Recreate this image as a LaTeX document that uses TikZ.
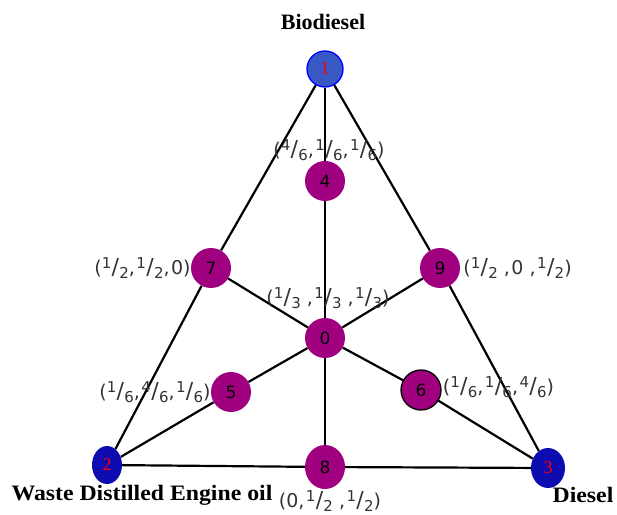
\documentclass[tikz,border=0pt]{standalone}
\usepackage{fontspec}
\setmainfont{Liberation Serif}
\newfontfamily\labfont{DejaVu Sans}
\newfontfamily\widefont[FakeStretch=1.08]{Liberation Serif}
\usetikzlibrary{backgrounds, shapes.geometric}

\definecolor{mixpurple}{RGB}{160,0,128}
\definecolor{pureblue}{RGB}{12,12,176}
\definecolor{bioblue}{RGB}{56,88,196}

\newcommand{\fr}[2]{\raisebox{6pt}{\fontsize{15}{15}\selectfont#1}\kern0.3pt{\fontsize{22}{22}\selectfont/}\kern0.3pt\raisebox{-4.5pt}{\fontsize{15}{15}\selectfont#2}}
\newcommand{\cm}{,\kern1.5pt}

\begin{document}
\begin{tikzpicture}[
  x=1pt, y=1pt,
  mix/.style    = {circle, fill=mixpurple, minimum size=40pt, inner sep=0pt,
                   font=\labfont\fontsize{17}{17}\selectfont},
  pure/.style   = {ellipse, fill=pureblue, inner sep=0pt, text=red,
                   font=\fontsize{18}{18}\selectfont},
  comp/.style   = {font=\bfseries\fontsize{22}{26}\selectfont},
  frac/.style   = {font=\labfont\fontsize{19}{21}\selectfont, text=black!80, inner sep=1pt},
  edge/.style   = {line width=2.2pt},
]
\useasboundingbox (0,0) rectangle (617,514);

% ---- the three pure fuels ---------------------------------------------------
\node[circle, draw=blue, line width=1.3pt, fill=bioblue, minimum size=36pt,
      inner sep=0pt, text=red, font=\fontsize{18}{18}\selectfont] (p1) at (325,445) {1};
\node[pure, minimum width=30pt, minimum height=38pt] (p2) at (107,49) {2};
\node[pure, minimum width=34pt, minimum height=40pt] (p3) at (548,46) {3};

% ---- the blends -------------------------------------------------------------
\node[mix] (p0) at (325,176) {0};
\node[mix] (p4) at (325,333) {4};
\node[mix] (p7) at (211,246) {7};
\node[mix] (p9) at (440,246) {9};
\node[mix] (p5) at (231,122) {5};
\node[mix, draw=black, line width=1.3pt] (p6) at (421,124) {6};
\node[mix, ellipse, minimum width=40pt, minimum height=44pt] (p8) at (325,47) {8};

% ---- edges ------------------------------------------------------------------
\begin{pgfonlayer}{background}
  \draw[edge] (p1) -- (p7) -- (p2) -- (p8) -- (p3) -- (p9) -- (p1);
  \draw[edge] (p1) -- (p4) -- (p0) -- (p8);
  \draw[edge] (p7) -- (p0) -- (p9);
  \draw[edge] (p2) -- (p5) -- (p0) -- (p6) -- (p3);
\end{pgfonlayer}

% ---- component names --------------------------------------------------------
\node[comp] (nBio) at (323,492) {Biodiesel};
\node[comp, font=\widefont\bfseries\fontsize{22}{26}\selectfont] (nWde) at (142,19) {Waste Distilled Engine oil};
\node[comp, font=\widefont\bfseries\fontsize{22}{26}\selectfont] (nDsl) at (583,19) {Diesel};

% ---- blend fractions --------------------------------------------------------
\node[frac]          (f4) at (329,364) {(\fr{4}{6}\cm\fr{1}{6}\cm\fr{1}{6})};
\node[frac, anchor=east] (f7) at ([xshift=1pt]p7.west) {(\fr{1}{2}\cm\fr{1}{2}\cm0)};
\node[frac, anchor=west] (f9) at ([xshift=2pt]p9.east) {(\fr{1}{2} \cm0 \cm\fr{1}{2})};
\node[frac]          (f0) at (328,216) {(\fr{1}{3} \cm\fr{1}{3} \cm\fr{1}{3})};
\node[frac, anchor=east] (f5) at ([xshift=1pt]p5.west) {(\fr{1}{6}\cm\fr{4}{6}\cm\fr{1}{6})};
\node[frac, anchor=west] (f6) at ([yshift=3pt]p6.east) {(\fr{1}{6}\cm\fr{1}{6}\cm\fr{4}{6})};
\node[frac]          (f8) at (330,13) {(0\cm\fr{1}{2} \cm\fr{1}{2})};

\end{tikzpicture}
\end{document}
